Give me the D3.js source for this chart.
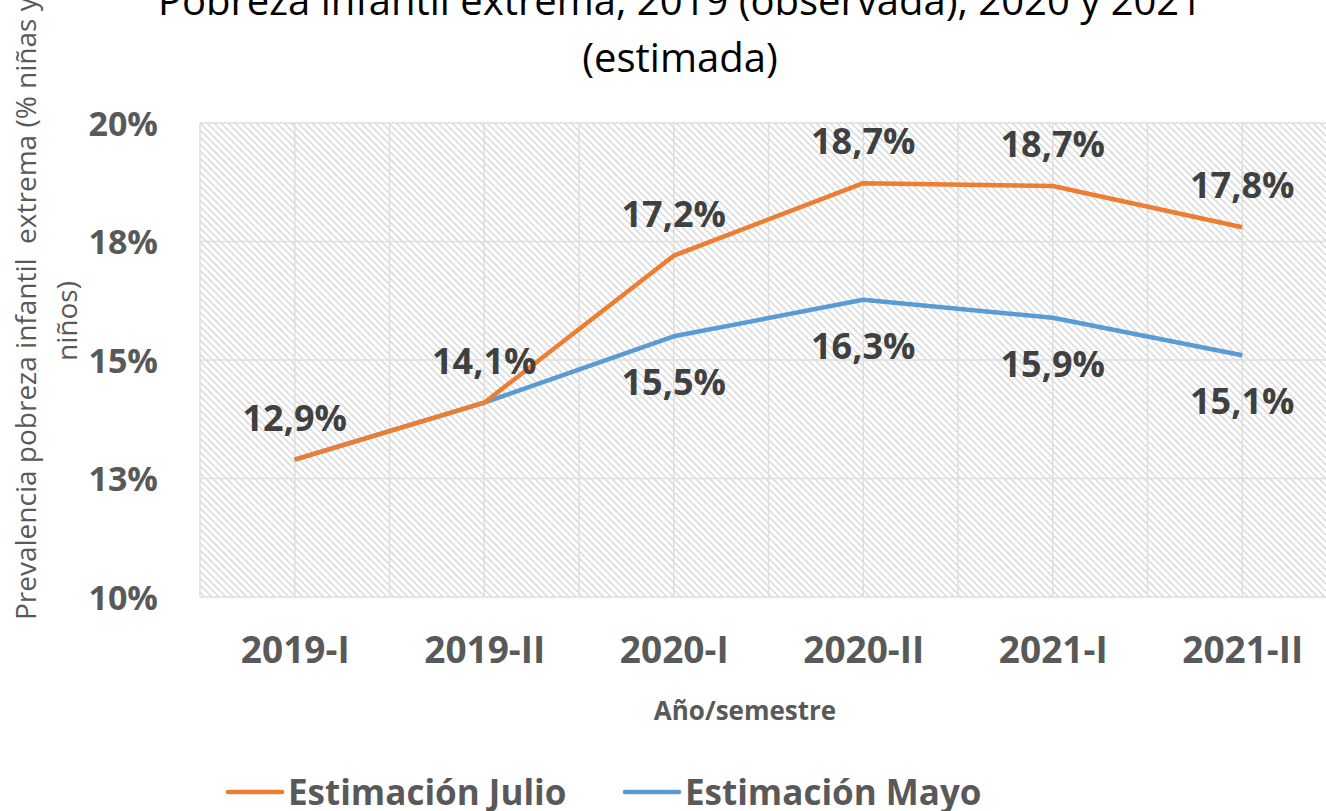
<!DOCTYPE html>
<html>
<head>
<meta charset="utf-8">
<script src="https://cdn.jsdelivr.net/npm/d3@7"></script>
<style>
  body { margin: 0; overflow: hidden; background: #fff; }
  text { font-family: "Open Sans", sans-serif; }
</style>
</head>
<body>
<script>
// Data

const categories = ["2019-I", "2019-II", "2020-I", "2020-II", "2021-I", "2021-II"];
const julioValues = [12.9, 14.1, 17.2, 18.73, 18.67, 17.8];
const mayoValues = [12.9, 14.1, 15.5, 16.27, 15.89, 15.1];
const mayoLabeled = [false, false, true, true, true, true];
const yTicks = [10, 12.5, 15, 17.5, 20];
const yTickLabels = ["10%", "13%", "15%", "18%", "20%"];
const seriesNames = ["Estimación Julio", "Estimación Mayo"];

// Set Dimensions

const width = 1326;
const height = 811;
const plotLeft = 200;
const plotRight = 1337;
const plotTop = 123;
const plotBottom = 597;

const svg = d3.select("body")
  .append("svg")
  .attr("width", width)
  .attr("height", height);

// hatch fill of the plot area

svg.append("defs")
  .append("pattern")
  .attr("id", "hatch")
  .attr("patternUnits", "userSpaceOnUse")
  .attr("width", 7)
  .attr("height", 7)
  .append("path")
  .attr("d", "M-1,-1 L8,8 M-1,6 L1,8 M6,-1 L8,1")
  .attr("stroke", "#d6d6d6")
  .attr("stroke-width", 1.3);

// Scales

const xBand = d3.scaleBand()
  .domain(categories)
  .range([plotLeft, plotRight]);

const x = d3.scalePoint()
  .domain(categories)
  .range([plotLeft, plotRight])
  .padding(0.5);

const y = d3.scaleLinear()
  .domain([10, 20])
  .range([plotBottom, plotTop]);

svg.append("rect")
  .attr("x", plotLeft)
  .attr("y", plotTop)
  .attr("width", plotRight - plotLeft)
  .attr("height", plotBottom - plotTop)
  .attr("fill", "url(#hatch)");

// gridlines: vertical at band edges and centres, horizontal at ticks

const vLines = [];
categories.forEach(c => {
  vLines.push(xBand(c));
  vLines.push(x(c));
});
vLines.push(plotRight);

svg.append("g")
  .selectAll("line")
  .data(vLines)
  .enter()
  .append("line")
  .attr("x1", d => d)
  .attr("x2", d => d)
  .attr("y1", plotTop)
  .attr("y2", plotBottom)
  .attr("stroke", "#dedede")
  .attr("stroke-width", 1.5);

svg.append("g")
  .selectAll("line")
  .data(yTicks)
  .enter()
  .append("line")
  .attr("x1", plotLeft)
  .attr("x2", plotRight)
  .attr("y1", d => y(d))
  .attr("y2", d => y(d))
  .attr("stroke", "#dedede")
  .attr("stroke-width", 1.5);

// Y axis

const yAxis = svg.append("g")
  .attr("transform", "translate(158,0)")
  .call(d3.axisLeft(y).tickValues(yTicks).tickSize(0).tickPadding(0)
    .tickFormat((d, i) => yTickLabels[i]));
yAxis.select(".domain").remove();
yAxis.selectAll("text")
  .attr("x", 0)
  .attr("dy", 12)
  .attr("fill", "#595959")
  .style("font-family", "Open Sans")
  .style("font-size", "34px")
  .style("font-weight", "bold");

// X axis

const xAxis = svg.append("g")
  .attr("transform", "translate(0,663)")
  .call(d3.axisBottom(x).tickSize(0).tickPadding(0));
xAxis.select(".domain").remove();
xAxis.selectAll("text")
  .attr("y", 0)
  .attr("dy", 0)
  .attr("fill", "#595959")
  .style("font-family", "Open Sans")
  .style("font-size", "37px")
  .style("font-weight", "bold");

// Lines

const line = d3.line()
  .x((d, i) => x(categories[i]))
  .y(d => y(d));

svg.append("path")
  .datum(mayoValues)
  .attr("fill", "none")
  .attr("stroke", "#5b9bd5")
  .attr("stroke-width", 4.5)
  .attr("stroke-linejoin", "round")
  .attr("d", line);

svg.append("path")
  .datum(julioValues)
  .attr("fill", "none")
  .attr("stroke", "#ed7d31")
  .attr("stroke-width", 4.5)
  .attr("stroke-linejoin", "round")
  .attr("d", line);

// Data labels

const fmt = v => v.toFixed(1).replace(".", ",") + "%";

svg.append("g")
  .selectAll("text")
  .data(julioValues)
  .enter()
  .append("text")
  .attr("x", (d, i) => x(categories[i]))
  .attr("y", d => y(d) - 29)
  .attr("text-anchor", "middle")
  .attr("fill", "#404040")
  .style("font-size", "36px")
  .style("font-weight", "bold")
  .text(d => fmt(d));

svg.append("g")
  .selectAll("text")
  .data(mayoValues.map((v, i) => ({v: v, i: i})).filter(d => mayoLabeled[d.i]))
  .enter()
  .append("text")
  .attr("x", d => x(categories[d.i]))
  .attr("y", d => y(d.v) + 59)
  .attr("text-anchor", "middle")
  .attr("fill", "#404040")
  .style("font-size", "36px")
  .style("font-weight", "bold")
  .text(d => fmt(d.v));

// Title

const title = svg.append("text")
  .attr("text-anchor", "middle")
  .attr("fill", "#000")
  .style("font-size", "40px");
title.append("tspan").attr("x", 680).attr("y", 15)
  .text("Pobreza infantil extrema, 2019 (observada), 2020 y 2021");
title.append("tspan").attr("x", 680).attr("y", 72)
  .text("(estimada)");

// Axis titles

svg.append("text")
  .attr("x", 745)
  .attr("y", 720)
  .attr("text-anchor", "middle")
  .attr("fill", "#595959")
  .style("font-size", "26px")
  .style("font-weight", "bold")
  .text("Año/semestre");

const yTitle = svg.append("g")
  .attr("transform", "rotate(-90)")
  .attr("fill", "#595959")
  .style("font-size", "28px");
yTitle.append("text")
  .attr("x", -620)
  .attr("y", 36)
  .attr("xml:space", "preserve")
  .style("white-space", "pre")
  .text("Prevalencia pobreza infantil  extrema (% niñas y");
yTitle.append("text")
  .attr("x", -321)
  .attr("y", 77)
  .attr("text-anchor", "middle")
  .text("niños)");

// Legend

const legendX = [228, 625];
const legendColors = ["#ed7d31", "#5b9bd5"];

const legend = svg.append("g")
  .selectAll("g")
  .data(seriesNames)
  .enter()
  .append("g")
  .attr("transform", (d, i) => "translate(" + legendX[i] + ",0)");

legend.append("line")
  .attr("x1", 0)
  .attr("x2", 54)
  .attr("y1", 792)
  .attr("y2", 792)
  .attr("stroke", (d, i) => legendColors[i])
  .attr("stroke-width", 4.5)
  .attr("stroke-linecap", "round");

legend.append("text")
  .attr("x", 60)
  .attr("y", 805)
  .attr("fill", "#595959")
  .style("font-size", "35px")
  .style("font-weight", "bold")
  .text(d => d);
</script>
</body>
</html>
